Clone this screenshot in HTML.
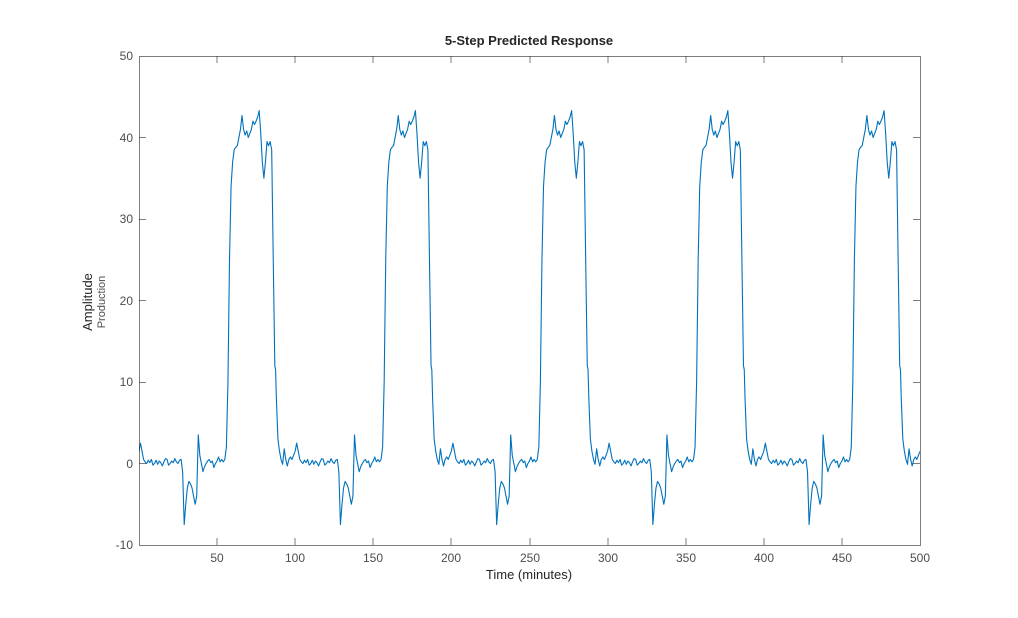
<!DOCTYPE html>
<html><head><meta charset="utf-8"><style>
html,body{margin:0;padding:0;background:#fff;}
svg text{font-family:"Liberation Sans",sans-serif;}
</style></head><body>
<svg width="1018" height="613" viewBox="0 0 1018 613" xmlns="http://www.w3.org/2000/svg">
<rect width="1018" height="613" fill="#fff"/>
<defs>
<clipPath id="c"><rect x="139" y="56" width="781" height="489"/></clipPath>
<path id="p" fill="none" stroke="#0072BD" stroke-width="1.1" vector-effect="non-scaling-stroke" stroke-linejoin="round" d="M0,1.5 L1,2.5 L2,1.5 L3,0.5 L4,0.2 L5,0 L6,0.4 L7,0.1 L8,0.5 L9,-0.2 L10,0 L11,0.4 L12,-0.1 L13,0.3 L14,0.1 L15,-0.3 L16,0.2 L17,0.6 L18,0.5 L19,-0.2 L20,0 L21,0.3 L22,0.1 L23,0.6 L24,0.2 L25,0 L26,0.4 L27,0.5 L28,-1 L29,-7.5 L30,-5 L31,-3 L32,-2.2 L33,-2.5 L34,-3 L35,-4 L36,-5 L37,-4 L38,3.5 L39,1 L40,0 L41,-1 L42,-0.4 L43,0 L44,0.3 L45,0.5 L46,0.1 L47,0.3 L48,-0.5 L49,0 L50,0.3 L51,0.8 L52,0.2 L53,0.5 L54,0.2 L55,0.5 L56,2 L57,10 L58,25 L59,34 L60,37 L61,38.5 L62,38.8 L63,39 L64,40 L65,41 L66,42.7 L67,41 L68,40.3 L69,40.8 L70,40 L71,40.5 L72,41 L73,42 L74,41.6 L75,42 L76,42.5 L77,43.3 L78,40.5 L79,37 L80,35 L81,37 L82,39.5 L83,39 L84,39.5 L85,38.5 L86,25 L87,12 L87.5,11.5 L88,8 L89,3 L90,1.5 L91,0.5 L92,-0.1 L93,1.8 L94,0.5 L95,-0.3 L96,0.5 L97,0.8 L98,0.5 L99,1 L100,1.5"/>
</defs>
<g clip-path="url(#c)">
<g transform="translate(138.9,463.5) scale(1.5622,-8.15)">
<use href="#p"/>
<use href="#p" x="100"/>
<use href="#p" x="200"/>
<use href="#p" x="300"/>
<use href="#p" x="400"/>
</g>
</g>
<rect x="139.5" y="56.5" width="781" height="489" fill="none" stroke="#262626" stroke-width="1" stroke-opacity="0.6"/>
<g stroke="#262626" stroke-opacity="0.6" stroke-width="1">
<path d="M217,545v-7M295,545v-7M373,545v-7M451,545v-7M530,545v-7M608,545v-7M686,545v-7M764,545v-7M842,545v-7M217,56v7M295,56v7M373,56v7M451,56v7M530,56v7M608,56v7M686,56v7M764,56v7M842,56v7"/>
<path d="M139,137.5h7M139,219.5h7M139,300.5h7M139,382.5h7M139,463.5h7M920,137.5h-7M920,219.5h-7M920,300.5h-7M920,382.5h-7M920,463.5h-7"/>
</g>
<g fill="#4d4d4d" font-size="12" text-anchor="middle">
<text x="217" y="562">50</text><text x="295" y="562">100</text><text x="373" y="562">150</text><text x="451" y="562">200</text><text x="530" y="562">250</text><text x="608" y="562">300</text><text x="686" y="562">350</text><text x="764" y="562">400</text><text x="842" y="562">450</text><text x="920" y="562">500</text>
</g>
<g fill="#4d4d4d" font-size="12" text-anchor="end">
<text x="133" y="60">50</text><text x="133" y="142">40</text><text x="133" y="223">30</text><text x="133" y="305">20</text><text x="133" y="386">10</text><text x="133" y="468">0</text><text x="133" y="549">-10</text>
</g>
<text x="529" y="579" font-size="13" fill="#262626" text-anchor="middle">Time (minutes)</text>
<text x="529" y="45" font-size="13" font-weight="bold" fill="#262626" text-anchor="middle">5-Step Predicted Response</text>
<text transform="translate(92,302) rotate(-90)" font-size="13" fill="#262626" text-anchor="middle">Amplitude</text>
<text transform="translate(105,302) rotate(-90)" font-size="11" fill="#4d4d4d" text-anchor="middle">Production</text>
</svg>
</body></html>
